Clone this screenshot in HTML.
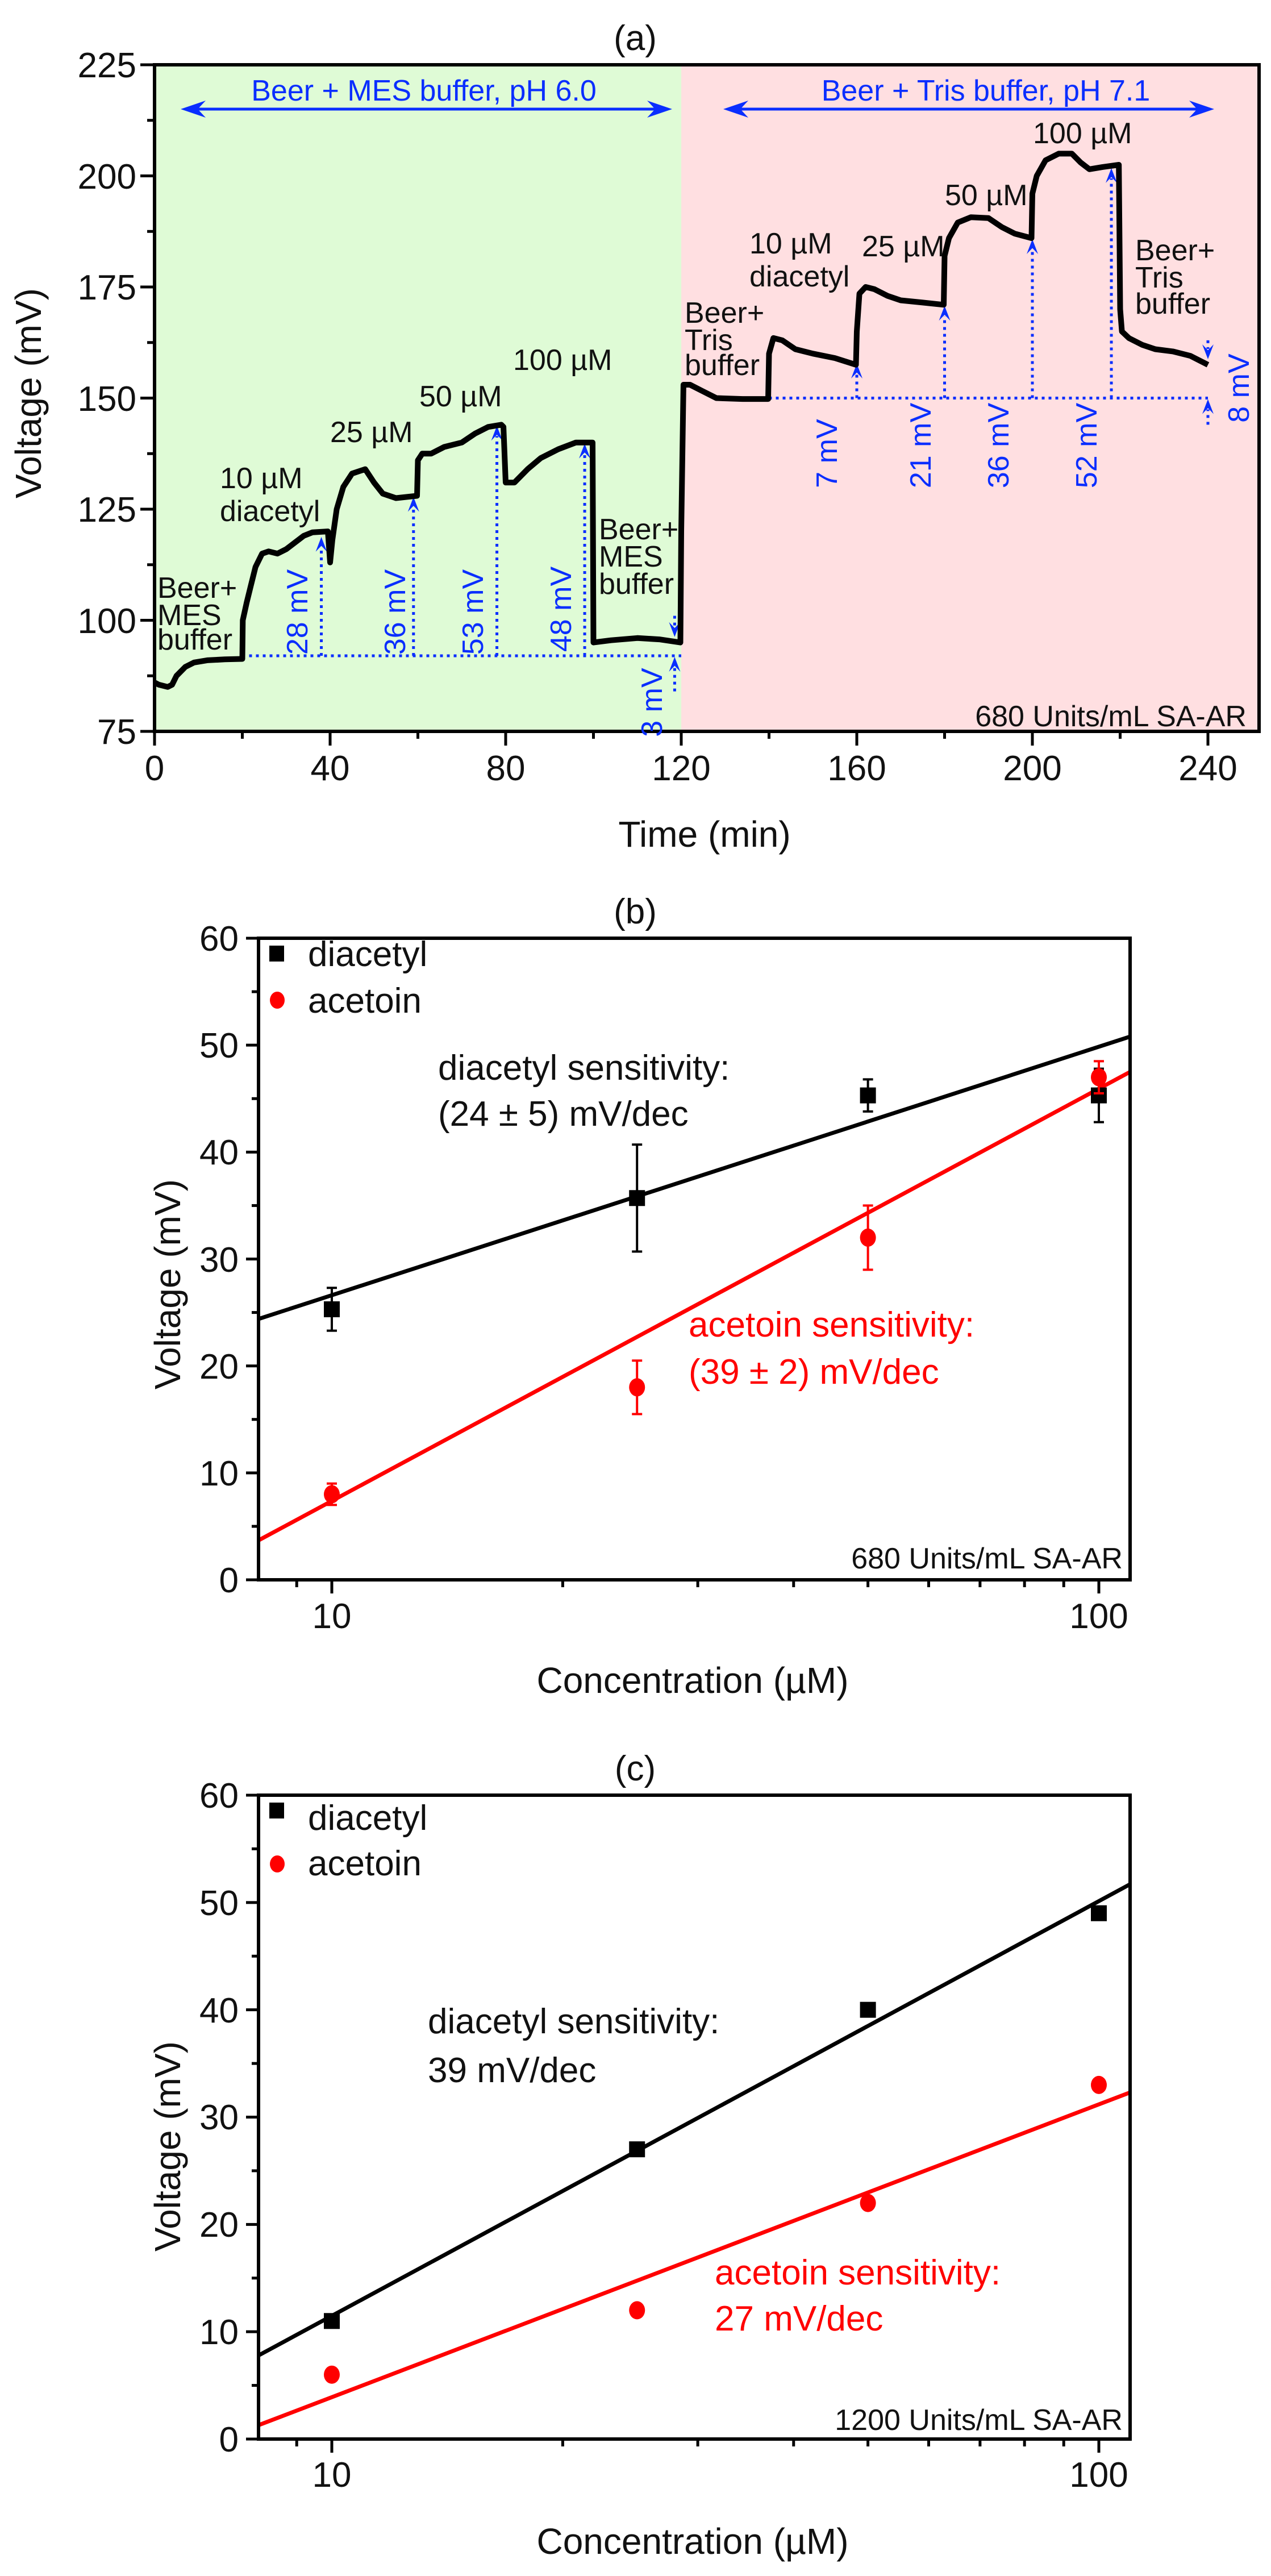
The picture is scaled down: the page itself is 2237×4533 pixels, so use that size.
<!DOCTYPE html>
<html><head><meta charset="utf-8"><style>
html,body{margin:0;padding:0;background:#fff}
svg{display:block}
text{font-family:"Liberation Sans","DejaVu Sans",sans-serif}
</style></head><body>
<svg id="s" width="2237" height="4533" viewBox="0 0 2237 4533" xmlns="http://www.w3.org/2000/svg">
<!-- Panel A -->
<rect x="272" y="114" width="927" height="1173" fill="#dffbd6"/>
<rect x="1199" y="114" width="1017" height="1173" fill="#ffdfe1"/>
<g id="aBlue" stroke="#0a2eff" fill="none"></g>
<path id="trace" fill="none" stroke="#000" stroke-width="10" stroke-linejoin="round"/>
<rect x="272" y="114" width="1944" height="1173" fill="none" stroke="#000" stroke-width="6"/>
<g id="aTicks" stroke="#000" stroke-width="5"></g>
<g font-size="62" text-anchor="end" fill="#111">
<text x="240" y="1309">75</text><text x="240" y="1114">100</text><text x="240" y="918">125</text><text x="240" y="723">150</text><text x="240" y="527">175</text><text x="240" y="332">200</text><text x="240" y="136">225</text>
</g>
<g font-size="62" text-anchor="middle" fill="#111">
<text x="272" y="1373">0</text><text x="581" y="1373">40</text><text x="890" y="1373">80</text><text x="1199" y="1373">120</text><text x="1508" y="1373">160</text><text x="1817" y="1373">200</text><text x="2126" y="1373">240</text>
<text x="1118" y="88">(a)</text>
<text x="1240" y="1490" font-size="64">Time (min)</text>
<text transform="translate(72,692) rotate(-90)" font-size="64">Voltage (mV)</text>
</g>
<g font-size="52" fill="#111">
<text x="277" y="1052">Beer+</text><text x="277" y="1100">MES</text><text x="277" y="1143">buffer</text>
<text x="387" y="859">10 µM</text><text x="387" y="917">diacetyl</text>
<text x="581" y="778">25 µM</text>
<text x="738" y="715">50 µM</text>
<text x="903" y="651">100 µM</text>
<text x="1054" y="949">Beer+</text><text x="1054" y="997">MES</text><text x="1054" y="1045">buffer</text>
<text x="1205" y="568">Beer+</text><text x="1205" y="616">Tris</text><text x="1205" y="660">buffer</text>
<text x="1319" y="446">10 µM</text><text x="1319" y="504">diacetyl</text>
<text x="1517" y="451">25 µM</text>
<text x="1663" y="361">50 µM</text>
<text x="1818" y="252">100 µM</text>
<text x="1998" y="458">Beer+</text><text x="1998" y="506">Tris</text><text x="1998" y="552">buffer</text>
<text x="2194" y="1278" text-anchor="end">680 Units/mL SA-AR</text>
</g>
<g font-size="52" fill="#0a2eff" text-anchor="middle">
<text x="746" y="177">Beer + MES buffer, pH 6.0</text>
<text x="1735" y="177">Beer + Tris buffer, pH 7.1</text>
<text transform="translate(523,1077) rotate(-90)" dy="18">28 mV</text>
<text transform="translate(695,1077) rotate(-90)" dy="18">36 mV</text>
<text transform="translate(832,1077) rotate(-90)" dy="18">53 mV</text>
<text transform="translate(987,1072) rotate(-90)" dy="18">48 mV</text>
<text transform="translate(1147,1236) rotate(-90)" dy="18">3 mV</text>
<text transform="translate(1455,798) rotate(-90)" dy="18">7 mV</text>
<text transform="translate(1620,784) rotate(-90)" dy="18">21 mV</text>
<text transform="translate(1757,784) rotate(-90)" dy="18">36 mV</text>
<text transform="translate(1912,784) rotate(-90)" dy="18">52 mV</text>
<text transform="translate(2180,683) rotate(-90)" dy="18">8 mV</text>
</g>

<!-- Panel B -->
<g id="pB"></g>
<g font-size="62" fill="#111" text-anchor="middle">
<text x="1118" y="1625">(b)</text>
<text x="584" y="2865">10</text><text x="1934" y="2865">100</text>
<text x="1219" y="2979" font-size="64">Concentration (µM)</text>
<text transform="translate(295,2260) rotate(-90)" dy="22" font-size="64">Voltage (mV)</text>
</g>
<g font-size="62" fill="#111" text-anchor="end">
<text x="420" y="2802">0</text><text x="420" y="2614">10</text><text x="420" y="2426">20</text><text x="420" y="2238">30</text><text x="420" y="2049">40</text><text x="420" y="1861">50</text><text x="420" y="1673">60</text>
</g>
<g font-size="62" fill="#111">
<text x="542" y="1700">diacetyl</text><text x="542" y="1782">acetoin</text>
<text x="771" y="1900">diacetyl sensitivity:</text>
<text x="771" y="1981">(24 ± 5) mV/dec</text>
<text x="1212" y="2352" fill="#f00">acetoin sensitivity:</text>
<text x="1212" y="2435" fill="#f00">(39 ± 2) mV/dec</text>
<text x="1976" y="2760" font-size="52" text-anchor="end">680 Units/mL SA-AR</text>
</g>

<!-- Panel C -->
<g id="pC"></g>
<g font-size="62" fill="#111" text-anchor="middle">
<text x="1118" y="3133">(c)</text>
<text x="584" y="4376">10</text><text x="1934" y="4376">100</text>
<text x="1219" y="4494" font-size="64">Concentration (µM)</text>
<text transform="translate(295,3777) rotate(-90)" dy="22" font-size="64">Voltage (mV)</text>
</g>
<g font-size="62" fill="#111" text-anchor="end">
<text x="420" y="4314">0</text><text x="420" y="4125">10</text><text x="420" y="3936">20</text><text x="420" y="3747">30</text><text x="420" y="3559">40</text><text x="420" y="3370">50</text><text x="420" y="3181">60</text>
</g>
<g font-size="62" fill="#111">
<text x="542" y="3220">diacetyl</text><text x="542" y="3300">acetoin</text>
<text x="753" y="3578">diacetyl sensitivity:</text>
<text x="753" y="3664">39 mV/dec</text>
<text x="1258" y="4020" fill="#f00">acetoin sensitivity:</text>
<text x="1258" y="4101" fill="#f00">27 mV/dec</text>
<text x="1976" y="4276" font-size="52" text-anchor="end">1200 Units/mL SA-AR</text>
</g>
</svg>
<script>
(function(){
var NS="http://www.w3.org/2000/svg";
function el(p,t,a){var e=document.createElementNS(NS,t);for(var k in a)e.setAttribute(k,a[k]);p.appendChild(e);return e;}
// Panel A
var X=function(t){return 272+7.725*t;}, Y=function(v){return 114+(225-v)*7.82;};
var d=[[0,86],[1,85.5],[3,85],[4,85.5],[5,87.5],[7,89.5],[9,90.5],[12,91],[16,91.2],[20,91.3],[20.1,100],[21,104],[22,108],[23,112],[24.5,115],[26,115.5],[28,115],[30,116],[32,117.5],[34,119],[36,119.8],[39.5,120],[40,113],[40.5,118],[41.5,125],[43,130],[45,133],[48,134],[50,131],[52,128.5],[55,127.5],[59.8,128],[60,136],[61,137.5],[63,137.5],[66,139],[70,140],[73,142],[76,143.5],[79,144],[79.5,143.5],[80,131],[82,131],[85,134],[88,136.5],[92,138.5],[96,140],[99.8,140],[100,95],[104,95.5],[110,96],[115,95.7],[119.8,95],[120,120],[120.5,153],[122,153],[125,151.5],[128,150],[134,149.8],[139.8,149.8],[140,160],[141,163.5],[143,163],[146,161],[150,160],[155,159],[159.8,157.5],[160,165],[160.6,173.5],[162,175],[164,174.5],[167,173],[170,172],[175,171.5],[179.8,171],[180,182],[181,186],[183,189.5],[186,190.7],[190,190.5],[193,188.5],[196,187],[199.8,186],[200,196],[201,200],[203,203.5],[206,205],[209,205],[211,203],[213,201.5],[216,202],[219.7,202.5],[220,170],[220.4,165],[222,163.5],[225,162],[228,161],[232,160.5],[236,159.5],[240,157.5]];
var s="";d.forEach(function(p,i){s+=(i?"L":"M")+X(p[0]).toFixed(1)+","+Y(p[1]).toFixed(1);});
document.getElementById("trace").setAttribute("d",s);
var B=document.getElementById("aBlue");
var dot={"stroke-width":5,"stroke-dasharray":"5 7"};
function dl(x1,y1,x2,y2){var a={x1:x1,y1:y1,x2:x2,y2:y2};for(var k in dot)a[k]=dot[k];el(B,"line",a);}
function head(x,y,dir){ // dir -1 = pointing up
 var h=26*dir;el(B,"path",{d:"M"+x+","+y+"L"+(x-10)+","+(y-h)+"L"+x+","+(y-h*0.6)+"L"+(x+10)+","+(y-h)+"Z",fill:"#0a2eff",stroke:"none"});}
dl(X(20),Y(92),X(120),Y(92));dl(X(140),Y(150),X(240),Y(150));
[[38,119],[59,128],[78,144],[98,140]].forEach(function(p){dl(X(p[0]),Y(92),X(p[0]),Y(p[1])+20);head(X(p[0]),Y(p[1])+2,-1);});
[[160,158],[180,171],[200,186],[218,202]].forEach(function(p){dl(X(p[0]),Y(150),X(p[0]),Y(p[1])+20);head(X(p[0]),Y(p[1])+2,-1);});
dl(X(118.5),Y(101),X(118.5),Y(96)-20);head(X(118.5),Y(96)-2,1);
dl(X(118.5),Y(84),X(118.5),Y(92)+20);head(X(118.5),Y(92)+2,-1);
dl(X(240),Y(163),X(240),Y(158.5)-20);head(X(240),Y(158.5)-2,1);
dl(X(240),Y(144),X(240),Y(150)+20);head(X(240),Y(150)+2,-1);
// header arrows
function harr(x1,x2,y){el(B,"line",{x1:x1+20,y1:y,x2:x2-20,y2:y,"stroke-width":5});
 el(B,"path",{d:"M"+x1+","+y+"L"+(x1+44)+","+(y-15)+"L"+(x1+30)+","+y+"L"+(x1+44)+","+(y+15)+"Z",fill:"#0a2eff",stroke:"none"});
 el(B,"path",{d:"M"+x2+","+y+"L"+(x2-44)+","+(y-15)+"L"+(x2-30)+","+y+"L"+(x2-44)+","+(y+15)+"Z",fill:"#0a2eff",stroke:"none"});}
harr(318,1183,192);harr(1273,2137,192);
var T=document.getElementById("aTicks");
for(var v=75;v<=225;v+=12.5){var maj=(v%25==0);el(T,"line",{x1:272-(maj?25:13),y1:Y(v),x2:272,y2:Y(v)});}
for(var t=0;t<=240;t+=20){var maj=(t%40==0);el(T,"line",{x1:X(t),y1:1287,x2:X(t),y2:1287+(maj?25:13)});}
// Panels B, C
function panel(g,bottom,top,dia,ace,dl0,dl1,al0,al1,err){
 var G=document.getElementById(g);var L=455,R=1989;
 var ppu=(bottom-top)/60;
 var PX=function(c){return 584+1350*Math.log10(c/10);},PY=function(v){return bottom-ppu*v;};
 var lx0=PX(8.03),lx1=R;
 el(G,"line",{x1:lx0,y1:PY(dl0),x2:lx1,y2:PY(dl1),stroke:"#000","stroke-width":7});
 el(G,"line",{x1:lx0,y1:PY(al0),x2:lx1,y2:PY(al1),stroke:"#f00","stroke-width":7});
 var cs=[10,25,50,100];
 cs.forEach(function(c,i){var x=PX(c);
  if(err){var e=err[0][i];el(G,"path",{d:"M"+(x-9)+","+PY(dia[i]+e)+"h18M"+x+","+PY(dia[i]+e)+"V"+PY(dia[i]-e)+"M"+(x-9)+","+PY(dia[i]-e)+"h18",stroke:"#000","stroke-width":4,fill:"none"});}
  el(G,"rect",{x:x-14,y:PY(dia[i])-14,width:28,height:28,fill:"#000"});});
 cs.forEach(function(c,i){var x=PX(c);
  if(err){var e=err[1][i];el(G,"path",{d:"M"+(x-9)+","+PY(ace[i]+e)+"h18M"+x+","+PY(ace[i]+e)+"V"+PY(ace[i]-e)+"M"+(x-9)+","+PY(ace[i]-e)+"h18",stroke:"#f00","stroke-width":4,fill:"none"});}
  el(G,"ellipse",{cx:x,cy:PY(ace[i]),rx:14,ry:16,fill:"#f00"});});
 el(G,"rect",{x:L,y:top,width:R-L,height:bottom-top,fill:"none",stroke:"#000","stroke-width":6});
 for(var v=0;v<=60;v+=5){var maj=v%10==0;el(G,"line",{x1:L-(maj?22:12),y1:PY(v),x2:L,y2:PY(v),stroke:"#000","stroke-width":5});}
 [9,10,20,30,40,50,60,70,80,90,100].forEach(function(c){var maj=(c==10||c==100);el(G,"line",{x1:PX(c),y1:bottom,x2:PX(c),y2:bottom+(maj?24:13),stroke:"#000","stroke-width":5});});
 // legend
 el(G,"rect",{x:474,y:top+13,width:26,height:28,fill:"#000"});
 el(G,"ellipse",{cx:488,cy:top+(g=="pB"?109:121),rx:13,ry:15,fill:"#f00"});
}
panel("pB",2780,1651,[25.3,35.7,45.3,45.3],[8,18,32,47],24.4,50.8,3.7,47.5,[[2,5,1.5,2.5],[1,2.5,3,1.5]]);
panel("pC",4292,3159,[11,27,40,49],[6,12,22,33],7.8,51.7,1.3,32.3,null);
})();
</script>
</body></html>
